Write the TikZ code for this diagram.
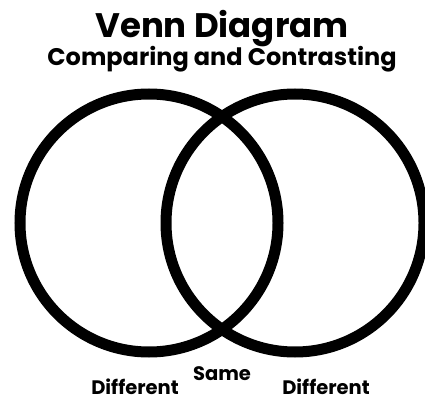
\documentclass[tikz,border=0pt]{standalone}
\usepackage{fontspec}
\setmainfont{Poppins}
\usepackage{tikz}
\usetikzlibrary{positioning}

\begin{document}
\begin{tikzpicture}[
        x=1pt, y=-1pt,
        ring/.style={draw=black, line width=11pt},
        heading/.style={font=\fontsize{34}{34}\selectfont\bfseries, anchor=base, inner sep=0pt},
        subheading/.style={font=\fontsize{24}{24}\selectfont\bfseries, anchor=base, inner sep=0pt},
        region/.style={font=\fontsize{19.5}{19.5}\selectfont\bfseries, anchor=base, inner sep=0pt}
    ]
        \useasboundingbox (0,0) rectangle (425,403);
        % the two sets
        \draw[ring] (149,223) circle[radius=129pt];
        \draw[ring] (295,223) circle[radius=129pt];
        % titles
        \node[heading] (title) at (222,38) {Venn Diagram};
        \node[subheading] (subtitle) at (222,66) {Comparing and Contrasting};
        % region labels
        \node[region] (same) at (222,380) {Same};
        \node[region] (diffleft) at (135,394) {Different};
        \node[region] (diffright) at (326,394) {Different};
    \end{tikzpicture}
\end{document}
